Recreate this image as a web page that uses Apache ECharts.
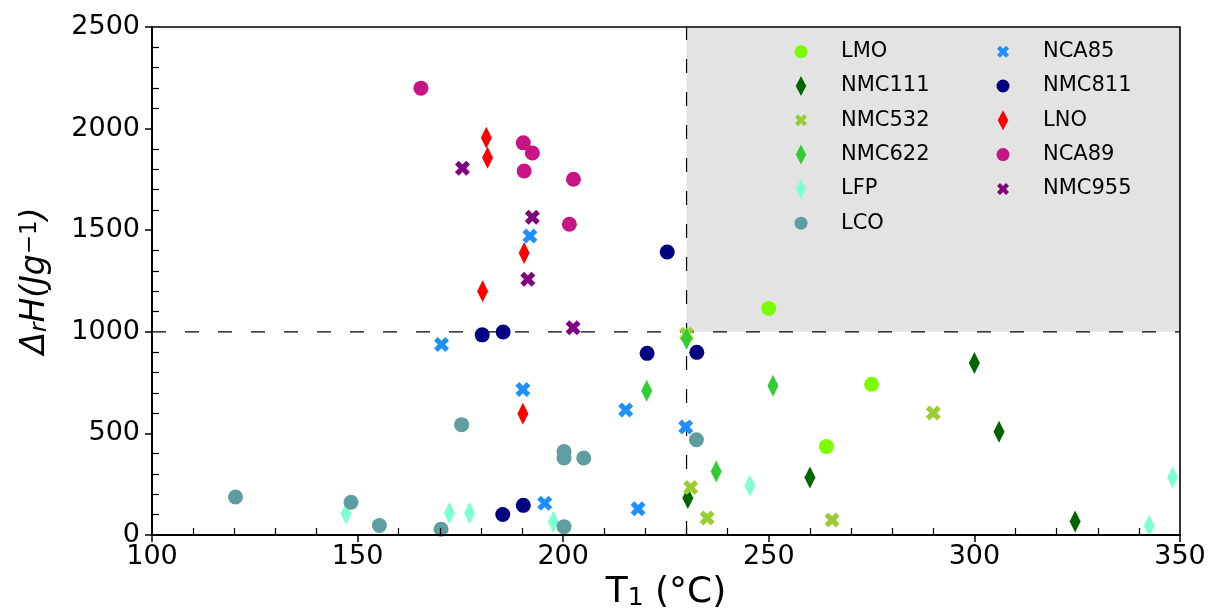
<!DOCTYPE html>
<html>
<head>
<meta charset="utf-8">
<script src="https://cdn.jsdelivr.net/npm/echarts@6/dist/echarts.min.js"></script>
<style>html,body{margin:0;padding:0;background:#fff}#c{width:1211px;height:610px}</style>
</head>
<body>
<div id="c"></div>
<script>
// ---- data (T1 in °C, ΔrH in J/g) ----
const seriesNames = ['LMO','NMC111','NMC532','NMC622','LFP','LCO','NCA85','NMC811','LNO','NCA89','NMC955'];
const LMO    = [[250,1115],[275,742],[264,435]];
const NMC111 = [[300,847],[306,508],[260,283],[230.3,182],[324.5,67]];
const NMC532 = [[230,988],[290,600],[231,234],[235,84],[265.4,74]];
const NMC622 = [[230,966],[220.3,710],[251,735],[237.2,313]];
const LFP    = [[147.2,106],[172.3,108],[177.2,108],[197.6,65],[245.4,243],[348.2,283],[342.5,46]];
const LCO    = [[120.3,187],[148.4,161],[155.3,47],[170.3,28],[175.3,543],[200.2,411],[200.2,379],[205,379],[200.2,41],[232.4,469]];
const NCA85  = [[170.4,938],[191.9,1472],[190.2,716],[215.2,615],[229.8,532],[195.5,156],[218.2,129]];
const NMC811 = [[180.3,985],[185.4,999],[225.3,1393],[220.4,894],[232.5,899],[185.3,101],[190.3,146]];
const LNO    = [[181.3,1955],[181.6,1856],[180.4,1200],[190.5,1388],[190.2,597]];
const NCA89  = [[165.4,2199],[190.3,1930],[192.5,1880],[190.5,1791],[202.5,1751],[201.5,1529]];
const NMC955 = [[175.5,1805],[192.5,1564],[191.4,1258],[202.4,1020]];
const seriesData = [LMO,NMC111,NMC532,NMC622,LFP,LCO,NCA85,NMC811,LNO,NCA89,NMC955];
const thresholds = [[230,1000]];   // T1 threshold, ΔrH threshold
const xTicks = [100,150,200,250,300,350];
const yTicks = [0,500,1000,1500,2000,2500];

// ---- styles ----
const FONT = 'DejaVu Sans';
const seriesColors = ['#7CFC00','#006400','#9ACD32','#32CD32','#7FFFD4','#5F9EA0','#1E90FF','#000080','#FF0000','#C71585','#800080'];
const seriesShapes = ['o','d','x','d','d','o','x','o','d','o','x'];
const DIAMOND = 'path://M5.5,0L11,10.5L5.5,21L0,10.5Z';
const XMARK = 'path://M1,0L2,1L3,0L4,1L3,2L4,3L3,4L2,3L1,4L0,3L1,2L0,1Z';
const shapeDef = {
  o: {symbol:'circle', size:15, iconW:13, iconH:13},
  d: {symbol:DIAMOND, size:[11,22], iconW:10.5, iconH:20},
  x: {symbol:XMARK, size:15, iconW:12, iconH:12}
};
const xMin = xTicks[0], xMax = xTicks[xTicks.length-1];
const yMin = yTicks[0], yMax = yTicks[yTicks.length-1];

const chart = echarts.init(document.getElementById('c'), null, {renderer:'canvas'});

const scatterSeries = seriesNames.map((n,i)=>{
  const s = shapeDef[seriesShapes[i]];
  return {
    name:n, type:'scatter', z:3,
    data: seriesData[i],
    symbol: s.symbol, symbolSize: s.size,
    itemStyle:{color: seriesColors[i], opacity:1},
    emphasis:{disabled:true}
  };
});

const legends = seriesNames.map((n,i)=>{
  const s = shapeDef[seriesShapes[i]];
  const col = i < 6 ? 0 : 1;
  const row = i < 6 ? i : i - 6;
  const cx = col === 0 ? 801 : 1003;
  const cy = 51.7 + 34.3*row;
  return {
    data:[{name:n, icon:s.symbol}],
    left: cx - s.iconW/2, top: cy - 12,
    itemWidth:70, itemHeight:s.iconH, itemGap:0, padding:0,
    selectedMode:false,
    textStyle:{fontFamily:FONT, fontSize:21, lineHeight:24, color:'#000'}
  };
});

const regionSeries = {
  type:'custom', name:'region', z:1, silent:true,
  data: thresholds,
  renderItem(params, api){
    const p0 = api.coord([api.value(0), yMax]);
    const p1 = api.coord([xMax, api.value(1)]);
    return {type:'rect', shape:{x:p0[0], y:p0[1], width:p1[0]-p0[0], height:p1[1]-p0[1]},
            style:{fill:'#e3e3e3'}};
  }
};
const lineSeries = {
  type:'custom', name:'thresholds', z:2, silent:true,
  data: thresholds,
  renderItem(params, api){
    const a0 = api.coord([api.value(0), yMin]);
    const a1 = api.coord([api.value(0), yMax]);
    const b0 = api.coord([xMin, api.value(1)]);
    const b1 = api.coord([xMax, api.value(1)]);
    const st = {stroke:'#000', lineWidth:1.2, lineDash:[14,19], fill:null};
    return {type:'group', children:[
      {type:'line', shape:{x1:a0[0], y1:a0[1], x2:a1[0], y2:a1[1]}, style:st},
      {type:'line', shape:{x1:b0[0], y1:b0[1], x2:b1[0], y2:b1[1]}, style:st}
    ]};
  }
};

const axisCommon = {
  type:'value', splitLine:{show:false}, z:5
};

chart.setOption({
  animation:false,
  backgroundColor:'#fff',
  grid:{left:152, right:31, top:27, bottom:75, show:true, z:5,
        borderColor:'#000', borderWidth:1.6, backgroundColor:'transparent',
        containLabel:false, outerBoundsMode:'none'},
  legend: legends,
  xAxis:[
    Object.assign({}, axisCommon, {
      min:xMin, max:xMax, interval:50, position:'bottom',
      name:'{a|T}{b|1}{a| (°C)}', nameLocation:'middle', nameGap:34,
      nameTextStyle:{fontFamily:FONT, color:'#000',
        rich:{a:{fontFamily:FONT, fontSize:36, lineHeight:36, color:'#000'},
              b:{fontFamily:FONT, fontSize:25, lineHeight:16, verticalAlign:'bottom', color:'#000'}}},
      axisLine:{show:true, onZero:false, lineStyle:{color:'#000', width:1.8}},
      axisTick:{show:true, inside:false, length:7, lineStyle:{color:'#000', width:1.5}},
      axisLabel:{fontFamily:FONT, fontSize:27, color:'#000', margin:8, formatter:(v)=>String(v)},
      minorTick:{show:false}
    }),
    Object.assign({}, axisCommon, {
      min:xMin, max:xMax, interval:50, position:'bottom',
      axisLine:{show:false}, axisLabel:{show:false},
      axisTick:{show:false, inside:true},
      minorTick:{show:true, splitNumber:5, length:7, lineStyle:{color:'#000', width:1.2}}
    })
  ],
  yAxis:[
    Object.assign({}, axisCommon, {
      min:yMin, max:yMax, interval:500, position:'left',
      name:'{a|Δ}{b|r}{a|H(Jg}{c|−1}{a|)}', nameLocation:'middle', nameGap:100,
      nameTextStyle:{fontFamily:FONT, color:'#000',
        rich:{a:{fontFamily:FONT, fontStyle:'italic', fontSize:33, lineHeight:33, color:'#000'},
              b:{fontFamily:FONT, fontStyle:'italic', fontSize:23, lineHeight:14, verticalAlign:'bottom', color:'#000'},
              c:{fontFamily:FONT, fontSize:23, lineHeight:14, verticalAlign:'top', color:'#000'}}},
      axisLine:{show:true, onZero:false, lineStyle:{color:'#000', width:1.8}},
      axisTick:{show:true, inside:false, length:7, lineStyle:{color:'#000', width:1.5}},
      axisLabel:{fontFamily:FONT, fontSize:27, color:'#000', margin:12, formatter:(v)=>String(v)},
      minorTick:{show:false}
    }),
    Object.assign({}, axisCommon, {
      min:yMin, max:yMax, interval:500, position:'left',
      axisLine:{show:false}, axisLabel:{show:false},
      axisTick:{show:false, inside:true},
      minorTick:{show:true, splitNumber:5, length:7, lineStyle:{color:'#000', width:1.2}}
    })
  ],
  series:[regionSeries, lineSeries].concat(scatterSeries)
});
</script>
</body>
</html>
